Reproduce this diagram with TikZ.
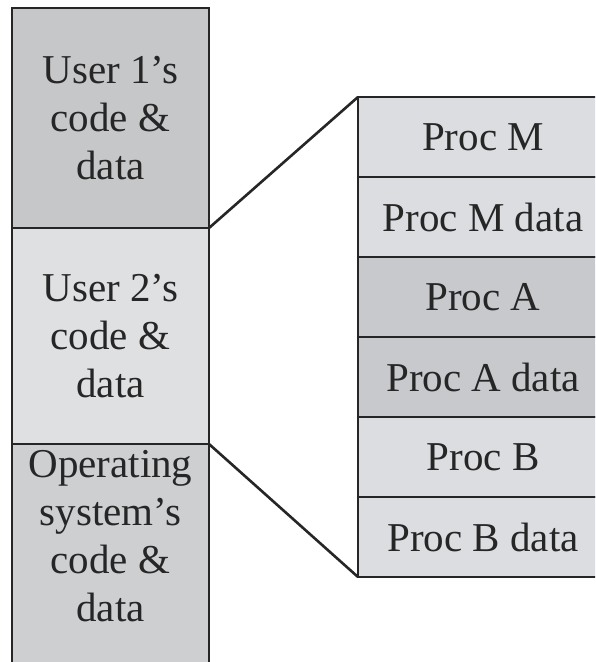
\documentclass[tikz,border=0pt]{standalone}
\usepackage{fontspec}
\setmainfont{Liberation Serif}
\definecolor{userone}{HTML}{C6C7C9}
\definecolor{usertwo}{HTML}{DFE0E2}
\definecolor{oscol}{HTML}{CDCFD1}
\definecolor{lightrow}{HTML}{DCDDE0}
\definecolor{darkrow}{HTML}{C8C9CC}
\begin{document}
\begin{tikzpicture}[x=1pt,y=1pt,
  memcell/.style={draw=black!85, line width=2.6pt, rectangle, inner sep=0pt, outer sep=0pt,
    anchor=north west, align=center, font=\fontsize{41}{48}\selectfont, text=black!85},
  leftcell/.style={memcell, minimum width=197pt},
  rightcell/.style={memcell, minimum width=250pt, minimum height=80pt},
  link/.style={draw=black!85, line width=2.6pt}]
\useasboundingbox (0,0) rectangle (595,-662);
\fill[white] (0,0) rectangle (595,-662);
\begin{scope}
\clip (0,0) rectangle (595,-662);
\node[leftcell, fill=userone, minimum height=220pt] (u1) at (12,-8) {User 1’s\\code \&\\data};
\node[leftcell, fill=usertwo, minimum height=216pt] (u2) at (12,-228) {User 2’s\\code \&\\data};
\node[leftcell, fill=oscol, minimum height=240pt] (os) at (12,-444) {};
\node[align=center, font=\fontsize{41}{48}\selectfont, text=black!85, inner sep=0pt] (ostext) at (110.5,-536) {Operating\\system’s\\code \&\\data};
\node[rightcell, fill=lightrow] (pm) at (358,-97) {Proc M};
\node[rightcell, fill=lightrow] (pmd) at (358,-177) {Proc M data};
\node[rightcell, fill=darkrow] (pa) at (358,-257) {Proc A};
\node[rightcell, fill=darkrow] (pad) at (358,-337) {Proc A data};
\node[rightcell, fill=lightrow] (pb) at (358,-417) {Proc B};
\node[rightcell, fill=lightrow] (pbd) at (358,-497) {Proc B data};
\draw[link] (u1.south east) -- (pm.north west);
\draw[link] (os.north east) -- (pbd.south west);
\end{scope}
\end{tikzpicture}
\end{document}
